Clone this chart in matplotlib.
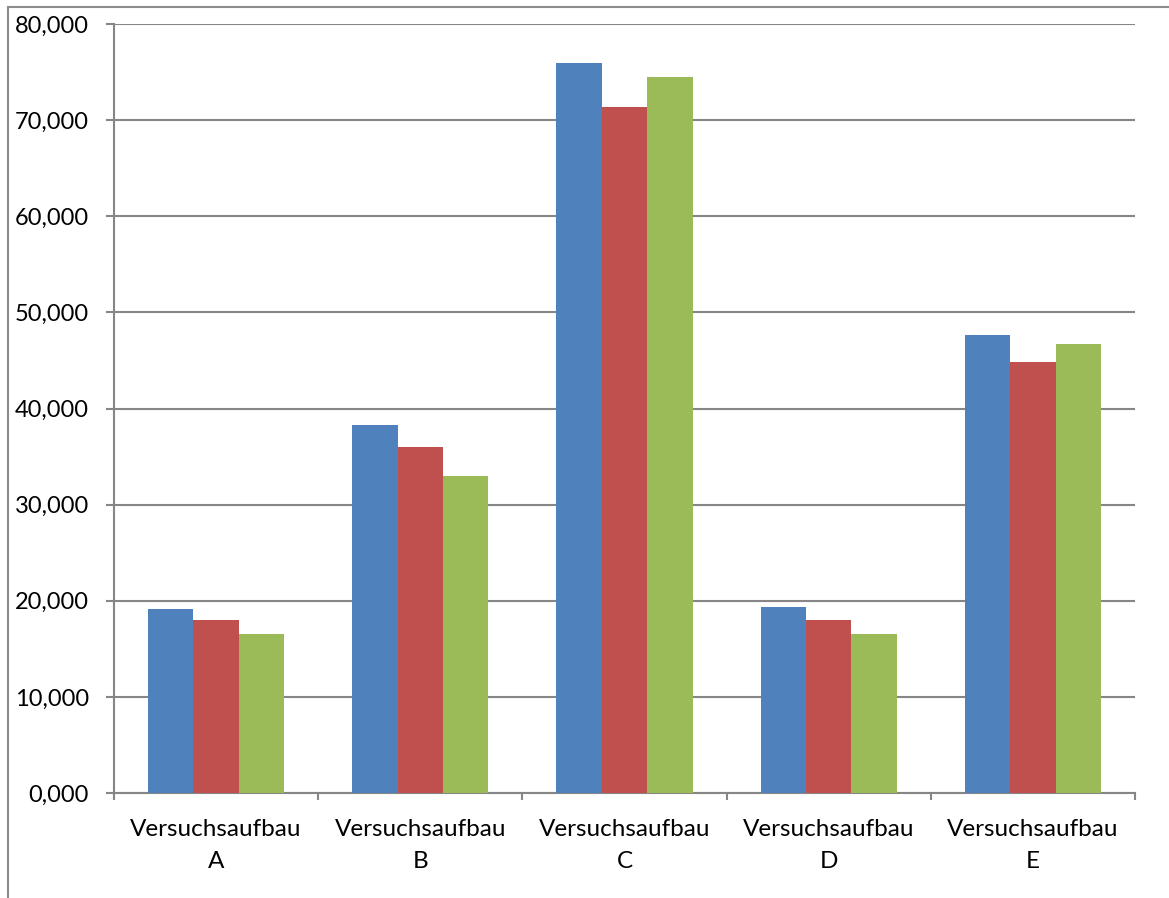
import matplotlib
matplotlib.use("Agg")
import matplotlib.pyplot as plt
import numpy as np
from matplotlib.lines import Line2D

categories = ["Versuchsaufbau\nA", "Versuchsaufbau\nB", "Versuchsaufbau\nC",
              "Versuchsaufbau\nD", "Versuchsaufbau\nE"]
series1 = [19.15, 38.3, 75.9, 19.4, 47.6]
series2 = [18.0, 36.0, 71.4, 18.0, 44.8]
series3 = [16.5, 33.0, 74.5, 16.5, 46.7]
colors = ["#4F81BD", "#C0504D", "#9BBB59"]
yticks = [0, 10, 20, 30, 40, 50, 60, 70, 80]

plt.rcParams['font.family'] = ['Lato', 'DejaVu Sans']

W, H = 1169, 898
fig = plt.figure(figsize=(W / 100, H / 100), dpi=100)
ax = fig.add_axes([114 / W, 1 - 793 / H, (1135 - 114) / W, (793 - 24) / H])

x = np.arange(len(categories))
bw = 1 / 4.5
for i, s in enumerate([series1, series2, series3]):
    ax.bar(x + (i - 1) * bw, s, width=bw, color=colors[i], edgecolor='none', zorder=3)

gray = "#868686"
ax.set_xlim(-0.5, len(categories) - 0.5)
ax.set_ylim(0, 80)
ax.set_yticks(yticks)
ax.set_yticklabels([f"{v:.3f}".replace('.', ',') for v in yticks])
ax.yaxis.grid(True, color=gray, linewidth=1.5, zorder=0)
ax.set_axisbelow(True)

ax.set_xticks(x)
ax.set_xticklabels(categories, linespacing=1.6)
ax.set_xticks(np.arange(len(categories) + 1) - 0.5, minor=True)
ax.tick_params(axis='x', which='major', length=0, pad=19, labelsize=17.5, colors='black')
ax.tick_params(axis='x', which='minor', length=5, width=1.5, color=gray, direction='out')
ax.tick_params(axis='y', which='major', length=6, width=1.5, color=gray, pad=12,
               labelsize=17, labelcolor='black')

for sp in ['top', 'right']:
    ax.spines[sp].set_visible(False)
for sp in ['left', 'bottom']:
    ax.spines[sp].set_color(gray)
    ax.spines[sp].set_linewidth(1.5)

# chart area border (partially visible)
fig.add_artist(Line2D([8 / W, 8 / W], [0, 1 - 7 / H], transform=fig.transFigure,
                      color="#8c8c8c", linewidth=1.5))
fig.add_artist(Line2D([8 / W, 1], [1 - 7 / H, 1 - 7 / H], transform=fig.transFigure,
                      color="#8c8c8c", linewidth=1.5))

fig.savefig("out.png", dpi=100, facecolor='white')
